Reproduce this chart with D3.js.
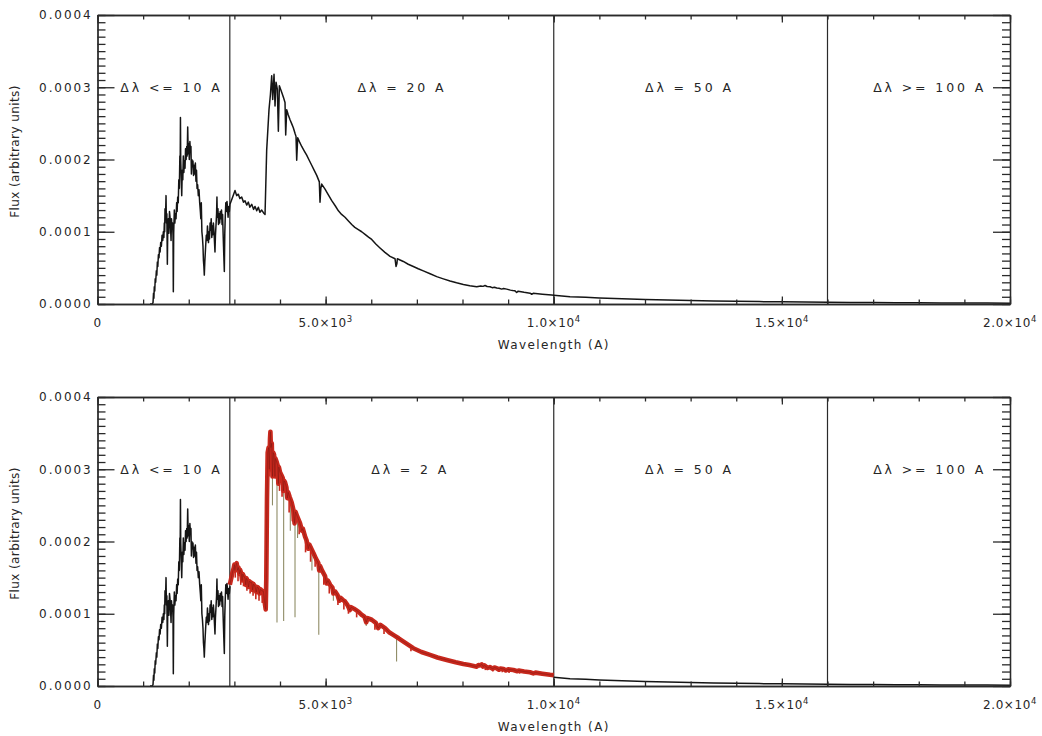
<!DOCTYPE html>
<html>
<head>
<meta charset="utf-8">
<script src="https://cdn.jsdelivr.net/npm/d3@7"></script>
<style>
  body { margin: 0; background: #fff; }
  text { font-family: "DejaVu Sans", sans-serif; fill: #262626; }
</style>
</head>
<body>
<svg id="chart" width="1042" height="736"></svg>
<script>
// ---- Spectrum data (wavelength in A, flux in arbitrary units) ----

// Ultraviolet part, dl <= 10 A (shared by both panels)
const uvWave = [1150, 1200, 1217, 1228, 1236, 1245, 1255, 1265, 1275, 1290, 1300, 1312, 1322, 1335, 1348, 1360,
  1372, 1385, 1400, 1415, 1430, 1443, 1455, 1465, 1472, 1480, 1490, 1502, 1510, 1520, 1531, 1540, 1553, 1565,
  1578, 1590, 1600, 1612, 1622, 1632, 1645, 1655, 1662, 1670, 1684, 1695, 1708, 1721, 1735, 1745, 1758, 1770,
  1782, 1794, 1805, 1812, 1818, 1824, 1835, 1846, 1858, 1870, 1881, 1893, 1905, 1918, 1930, 1942, 1955, 1966,
  1977, 1988, 2000, 2012, 2025, 2036, 2048, 2058, 2068, 2080, 2092, 2105, 2118, 2130, 2145, 2158, 2170, 2182,
  2195, 2210, 2225, 2240, 2255, 2265, 2275, 2288, 2300, 2312, 2322, 2332, 2341, 2352, 2362, 2372, 2385, 2398,
  2410, 2420, 2432, 2444, 2455, 2468, 2481, 2492, 2505, 2516, 2528, 2540, 2553, 2565, 2575, 2585, 2598, 2610,
  2618, 2626, 2640, 2652, 2665, 2678, 2690, 2705, 2718, 2730, 2742, 2752, 2762, 2772, 2780, 2790, 2800, 2812,
  2825, 2838, 2850, 2862, 2876, 2890, 2904];
const uvFlux = [0, 0, 0.000002, 0.000015, 0.000008, 0.000024, 0.000018, 0.000035, 0.000030, 0.000046,
  0.000040, 0.000058, 0.000052, 0.000068, 0.000064, 0.000078, 0.000072, 0.000085, 0.000080, 0.000095,
  0.000088, 0.000100, 0.000092, 0.000112, 0.000100, 0.000132, 0.000118, 0.000150, 0.000112, 0.000125,
  0.000055, 0.000105, 0.000118, 0.000098, 0.000128, 0.000120, 0.000108, 0.000088, 0.000118, 0.000104,
  0.000112, 0.000095, 0.000017, 0.000098, 0.000130, 0.000112, 0.000125, 0.000118, 0.000140, 0.000128,
  0.000148, 0.000140, 0.000172, 0.000160, 0.000205, 0.000188, 0.000258, 0.000200, 0.000175, 0.000150,
  0.000185, 0.000172, 0.000205, 0.000182, 0.000198, 0.000188, 0.000215, 0.000200, 0.000218, 0.000205,
  0.000245, 0.000208, 0.000222, 0.000200, 0.000225, 0.000210, 0.000218, 0.000180, 0.000200, 0.000190,
  0.000198, 0.000178, 0.000192, 0.000180, 0.000195, 0.000170, 0.000185, 0.000160, 0.000165, 0.000150,
  0.000158, 0.000140, 0.000128, 0.000118, 0.000140, 0.000100, 0.000092, 0.000080, 0.000060, 0.000052,
  0.000040, 0.000058, 0.000070, 0.000082, 0.000095, 0.000088, 0.000108, 0.000098, 0.000085, 0.000100,
  0.000090, 0.000112, 0.000102, 0.000118, 0.000092, 0.000108, 0.000096, 0.000112, 0.000100, 0.000085,
  0.000072, 0.000095, 0.000110, 0.000125, 0.000148, 0.000120, 0.000132, 0.000110, 0.000125, 0.000112,
  0.000128, 0.000118, 0.000130, 0.000110, 0.000124, 0.000100, 0.000080, 0.000060, 0.000045, 0.000098,
  0.000120, 0.000140, 0.000128, 0.000142, 0.000132, 0.000120, 0.000135, 0.000128, 0.000138];

// Optical part at dl = 20 A (upper panel)
const optWave = [2963, 3014, 3050, 3087, 3120, 3160, 3200, 3233, 3270, 3306, 3340, 3380, 3420, 3453, 3490,
  3525, 3560, 3599, 3640, 3672, 3708, 3759, 3790, 3818, 3840, 3869, 3891, 3913, 3942, 3964, 3986, 4037, 4080,
  4110, 4125, 4147, 4180, 4220, 4260, 4292, 4330, 4351, 4366, 4388, 4430, 4476, 4530, 4585, 4640, 4695, 4750,
  4805, 4862, 4877, 4895, 4914, 4987, 5060, 5134, 5210, 5280, 5350, 5425, 5500, 5572, 5640, 5717, 5790, 5864,
  5940, 6010, 6100, 6192, 6300, 6412, 6521, 6543, 6563, 6572, 6703, 6810, 6922, 7030, 7141, 7290, 7435, 7580,
  7727, 7870, 8019, 8160, 8312, 8400, 8450, 8494, 8540, 8604, 8650, 8700, 8750, 8800, 8860, 8900, 8969, 9050,
  9100, 9150, 9188, 9220, 9350, 9480, 9517, 9550, 9750, 9956, 10000];
const optFlux = [0.000148, 0.000157, 0.000150, 0.000152, 0.000146, 0.000148, 0.000141, 0.000143, 0.000137,
  0.000141, 0.000134, 0.000138, 0.000131, 0.000135, 0.000129, 0.000134, 0.000127, 0.000130, 0.000126,
  0.000124, 0.000213, 0.000269, 0.000290, 0.000316, 0.000283, 0.000318, 0.000274, 0.000307, 0.000297,
  0.000239, 0.000302, 0.000293, 0.000285, 0.000279, 0.000234, 0.000269, 0.000262, 0.000255, 0.000249,
  0.000244, 0.000236, 0.000232, 0.000199, 0.000230, 0.000224, 0.000218, 0.000212, 0.000206, 0.000199,
  0.000192, 0.000185, 0.000178, 0.000169, 0.000141, 0.000160, 0.000166, 0.000159, 0.000151, 0.000143,
  0.000136, 0.000129, 0.000124, 0.000120, 0.000115, 0.000110, 0.000106, 0.000103, 0.000100, 0.0000964,
  0.0000925, 0.0000893, 0.0000830, 0.0000776, 0.0000715, 0.0000659, 0.0000627, 0.0000519, 0.0000560,
  0.0000627, 0.0000589, 0.0000550, 0.0000519, 0.0000488, 0.0000458, 0.0000418, 0.0000379, 0.0000348,
  0.0000318, 0.0000293, 0.0000271, 0.0000254, 0.0000238, 0.0000250, 0.0000244, 0.0000256, 0.0000242,
  0.0000238, 0.0000226, 0.0000232, 0.0000222, 0.0000218, 0.0000206, 0.0000214, 0.0000206, 0.0000192,
  0.0000186, 0.0000182, 0.0000160, 0.0000178, 0.0000162, 0.0000150, 0.0000135, 0.0000148, 0.0000135,
  0.0000124, 0.0000122];

// Infrared tail, dl = 50 A and dl >= 100 A (shared by both panels)
const irWave = [10000, 10357, 10700, 11000, 11500, 12000, 12500, 13000, 13500, 14000, 14500, 15000, 15500,
  16000, 16500, 17000, 17500, 18000, 18500, 19000, 19500, 20000];
const irFlux = [0.0000122, 0.0000102, 0.0000092, 0.0000084, 0.0000072, 0.0000062, 0.0000054, 0.0000047,
  0.0000042, 0.0000037, 0.0000033, 0.0000030, 0.0000027, 0.0000024, 0.0000022, 0.0000020, 0.0000018,
  0.0000017, 0.0000015, 0.0000014, 0.0000013, 0.0000012];

// Optical part at dl = 2 A (lower panel)
const hiresWave = [2900, 2941, 2960, 2985, 3000, 3010, 3030, 3051, 3070, 3090, 3110, 3124, 3150, 3170, 3185,
  3210, 3233, 3250, 3265, 3290, 3310, 3330, 3360, 3380, 3400, 3420, 3450, 3480, 3500, 3525, 3550, 3570, 3600,
  3635, 3660, 3687, 3700, 3715, 3730, 3750, 3765, 3781, 3790, 3800, 3820, 3835, 3854, 3870, 3890, 3900, 3928,
  3950, 3964, 3975, 4000, 4030, 4060, 4074, 4090, 4110, 4140, 4160, 4180, 4210, 4256, 4290, 4320, 4340, 4370,
  4402, 4440, 4480, 4500, 4548, 4580, 4620, 4640, 4695, 4740, 4790, 4841, 4860, 4880, 4920, 4987, 5020, 5050,
  5100, 5150, 5170, 5206, 5260, 5300, 5330, 5380, 5425, 5480, 5530, 5560, 5620, 5717, 5780, 5850, 5890, 5920,
  6010, 6100, 6150, 6200, 6302, 6400, 6500, 6600, 6740, 6922, 7100, 7288, 7450, 7654, 7850, 8019, 8150, 8312,
  8350, 8385, 8420, 8450, 8480, 8520, 8550, 8600, 8660, 8700, 8750, 8800, 8830, 8900, 8950, 9000, 9115, 9200,
  9230, 9350, 9480, 9550, 9600, 9750, 9919, 10000];
const hiresFlux = [0.000140, 0.000152, 0.000158, 0.000163, 0.000168, 0.000160, 0.000166, 0.000170, 0.000160,
  0.000164, 0.000155, 0.000161, 0.000156, 0.000146, 0.000155, 0.000151, 0.000150, 0.000140, 0.000149,
  0.000146, 0.000137, 0.000145, 0.000143, 0.000143, 0.000133, 0.000141, 0.000138, 0.000130, 0.000137,
  0.000136, 0.000128, 0.000134, 0.000132, 0.000131, 0.000118, 0.000106, 0.000150, 0.000260, 0.000323,
  0.000330, 0.000300, 0.000342, 0.000352, 0.000330, 0.000336, 0.000290, 0.000323, 0.000320, 0.000290,
  0.000315, 0.000310, 0.000305, 0.000280, 0.000303, 0.000296, 0.000292, 0.000288, 0.000270, 0.000284,
  0.000282, 0.000275, 0.000260, 0.000268, 0.000262, 0.000254, 0.000245, 0.000225, 0.000241, 0.000236,
  0.000231, 0.000225, 0.000215, 0.000218, 0.000207, 0.000202, 0.000190, 0.000196, 0.000189, 0.000183,
  0.000176, 0.000170, 0.000160, 0.000166, 0.000160, 0.000152, 0.000142, 0.000146, 0.000140, 0.000136,
  0.000128, 0.000131, 0.000126, 0.000118, 0.000122, 0.000119, 0.000117, 0.000112, 0.000105, 0.000109,
  0.000107, 0.000103, 0.000099, 0.000096, 0.000088, 0.000094, 0.0000917, 0.0000875, 0.000080, 0.0000845,
  0.0000801, 0.0000740, 0.0000700, 0.0000660, 0.0000600, 0.0000523, 0.0000470, 0.0000431, 0.0000395,
  0.0000361, 0.0000330, 0.0000306, 0.0000290, 0.0000268, 0.0000290, 0.0000285, 0.0000300, 0.0000270,
  0.0000285, 0.0000265, 0.0000250, 0.0000262, 0.0000240, 0.0000255, 0.0000246, 0.0000225, 0.0000243,
  0.0000235, 0.0000215, 0.0000230, 0.0000222, 0.0000205, 0.0000214, 0.0000200, 0.0000190, 0.0000175,
  0.0000185, 0.0000170, 0.0000155, 0.0000150];

// Weak metal lines in the dl = 2 A spectrum: wavelength, continuum level, line core
const metalWave = [3020, 3080, 3140, 3200, 3275, 3345, 3410, 3470, 3540, 3610, 3760, 3810, 3990, 4045, 4200,
  4270, 4420, 4560, 4670, 4770, 4960, 5080, 5270, 5400, 5500, 5680, 6080, 6280, 6870, 8500, 8665, 8870, 9020,
  9250, 9560];
const metalTop = [0.000165, 0.000162, 0.000158, 0.000152, 0.000148, 0.000144, 0.000140, 0.000137, 0.000133,
  0.000131, 0.000330, 0.000333, 0.000298, 0.000290, 0.000264, 0.000250, 0.000228, 0.000205, 0.000192,
  0.000180, 0.000155, 0.000142, 0.000127, 0.000119, 0.000112, 0.000105, 0.000088, 0.000081, 0.000055,
  0.000028, 0.000025, 0.000024, 0.000023, 0.000021, 0.000019];
const metalCore = [0.000150, 0.000145, 0.000140, 0.000138, 0.000132, 0.000128, 0.000125, 0.000120, 0.000118,
  0.000115, 0.000290, 0.000300, 0.000270, 0.000262, 0.000240, 0.000228, 0.000210, 0.000185, 0.000172,
  0.000165, 0.000140, 0.000128, 0.000112, 0.000106, 0.000100, 0.000095, 0.000078, 0.000072, 0.000048,
  0.000022, 0.000020, 0.000019, 0.000018, 0.000017, 0.000015];

// Strong narrow absorption lines in the dl = 2 A spectrum
const lineWave = [3835, 3934, 4080, 4226, 4329, 4385, 4700, 4850, 5170, 5890, 6555];
const lineTop = [0.000320, 0.000305, 0.000285, 0.000258, 0.000240, 0.000232, 0.000187, 0.000168, 0.000133,
  0.000095, 0.000066];
const lineCore = [0.000250, 0.0000880, 0.0000900, 0.000215, 0.0000950, 0.000205, 0.000160, 0.0000710,
  0.000118, 0.000083, 0.0000340];

// Resolution zones and their labels
const zoneEdges = [2900, 10000, 16000];
const zoneLabelWave = [500, 5700, 12000, 17000];
const zoneLabelsTop = ["Δλ <= 10 A", "Δλ = 20 A", "Δλ = 50 A", "Δλ >= 100 A"];
const zoneLabelWaveBottom = [500, 6000, 12000, 17000];
const zoneLabelsBottom = ["Δλ <= 10 A", "Δλ = 2 A", "Δλ = 50 A", "Δλ >= 100 A"];
const zoneLabelFlux = 0.0003;

// Axis ticks
const xMajor = [0, 5000, 10000, 15000, 20000];
const xMinorStep = 1000;
const xMantissa = ["0", "5.0", "1.0", "1.5", "2.0"];
const xExponent = ["", "3", "4", "4", "4"];
const yMajor = [0, 0.0001, 0.0002, 0.0003, 0.0004];
const yMinorStep = 0.00001;
const yLabels = ["0.0000", "0.0001", "0.0002", "0.0003", "0.0004"];

// ---- Drawing ----
const svg = d3.select("#chart");
const left = 97.5, right = 1010;
const x = d3.scaleLinear().domain([0, 20000]).range([left, right]);
const xMinor = d3.range(0, 20000 + 1, xMinorStep);
const yMinor = d3.range(0, 41).map(i => i * yMinorStep);

const toPts = (w, f) => w.map((d, i) => [d, f[i]]);
const uvPts = toPts(uvWave, uvFlux);
const optPts = toPts(optWave, optFlux);
const irPts = toPts(irWave, irFlux);
const hiresPts = toPts(hiresWave, hiresFlux);

const panels = [
  { top: 15, bottom: 304, labels: zoneLabelsTop, labelWave: zoneLabelWave, hires: false },
  { top: 397, bottom: 686, labels: zoneLabelsBottom, labelWave: zoneLabelWaveBottom, hires: true }
];

const ink = "#2a2a2a";

panels.forEach(p => {
  const y = d3.scaleLinear().domain([0, 0.0004]).range([p.bottom, p.top]);
  const g = svg.append("g");
  const line = d3.line().x(d => x(d[0])).y(d => y(d[1]));

  // resolution zone boundaries
  g.append("g").selectAll("line").data(zoneEdges).join("line")
    .attr("x1", d => x(d)).attr("x2", d => x(d))
    .attr("y1", p.top).attr("y2", p.bottom)
    .attr("stroke", ink).attr("stroke-width", 1.2);

  // spectrum
  const blackLine = (pts, w) => g.append("path").attr("d", line(pts))
    .attr("fill", "none").attr("stroke", "#151515").attr("stroke-width", w)
    .attr("stroke-linejoin", "round");

  if (!p.hires) {
    blackLine(uvPts.concat(optPts).concat(irPts.slice(1)), 1.5);
  } else {
    blackLine(uvPts, 1.5);
    blackLine(irPts, 1.5);
    // narrow absorption cores
    g.append("g").selectAll("line").data(lineWave).join("line")
      .attr("x1", d => x(d)).attr("x2", d => x(d))
      .attr("y1", (d, i) => y(lineTop[i])).attr("y2", (d, i) => y(lineCore[i]))
      .attr("stroke", "#8f8c66").attr("stroke-width", 1.1);
    g.append("path").attr("d", line(hiresPts))
      .attr("fill", "none").attr("stroke", "#c8281d").attr("stroke-width", 4.6)
      .attr("stroke-linejoin", "round");
    g.append("g").selectAll("line").data(metalWave).join("line")
      .attr("x1", d => x(d)).attr("x2", d => x(d))
      .attr("y1", (d, i) => y(metalTop[i])).attr("y2", (d, i) => y(metalCore[i]))
      .attr("stroke", "#c8281d").attr("stroke-width", 1.6);
    g.append("path").attr("d", line(hiresPts))
      .attr("fill", "none").attr("stroke", "#6e1510").attr("stroke-width", 0.8)
      .attr("stroke-opacity", 0.5);
  }

  // D3 axes on all four sides, ticks turned inward
  const styleAxis = a => {
    a.select(".domain").attr("stroke", ink).attr("stroke-width", 1.3);
    a.selectAll(".tick line").attr("stroke", ink).attr("stroke-width", 1.3);
    return a;
  };
  const axisAt = (axis, tx, ty) => styleAxis(
    g.append("g").attr("transform", `translate(${tx},${ty})`).call(axis));

  // left axis carries the flux labels
  const yAxisLeft = axisAt(d3.axisLeft(y).tickValues(yMajor)
    .tickFormat((d, i) => yLabels[i]).tickSizeInner(-17).tickSizeOuter(0).tickPadding(5), left, 0);
  yAxisLeft.selectAll(".tick text")
    .attr("font-family", "DejaVu Sans, sans-serif").attr("font-size", 12)
    .attr("letter-spacing", 1.9).attr("fill", "#262626");
  axisAt(d3.axisLeft(y).tickValues(yMinor).tickFormat("").tickSizeInner(-8).tickSizeOuter(0), left, 0);
  axisAt(d3.axisRight(y).tickValues(yMajor).tickFormat("").tickSizeInner(-17).tickSizeOuter(0), right, 0);
  axisAt(d3.axisRight(y).tickValues(yMinor).tickFormat("").tickSizeInner(-8).tickSizeOuter(0), right, 0);
  axisAt(d3.axisBottom(x).tickValues(xMajor).tickFormat("").tickSizeInner(-7.5).tickSizeOuter(0), 0, p.bottom);
  axisAt(d3.axisBottom(x).tickValues(xMinor).tickFormat("").tickSizeInner(-4.5).tickSizeOuter(0), 0, p.bottom);
  axisAt(d3.axisTop(x).tickValues(xMajor).tickFormat("").tickSizeInner(-7.5).tickSizeOuter(0), 0, p.top);
  axisAt(d3.axisTop(x).tickValues(xMinor).tickFormat("").tickSizeInner(-4.5).tickSizeOuter(0), 0, p.top);

  // zone labels
  g.append("g").selectAll("text").data(p.labels).join("text")
    .attr("x", (d, i) => x(p.labelWave[i]))
    .attr("y", y(zoneLabelFlux))
    .attr("dy", "0.36em")
    .attr("font-size", 12.5)
    .attr("letter-spacing", 2.9)
    .text(d => d);

  // x tick labels with exponents
  const xl = g.append("g").selectAll("text").data(xMajor).join("text")
    .attr("x", d => x(d)).attr("y", p.bottom + 23)
    .attr("text-anchor", "middle")
    .attr("font-size", 12).attr("letter-spacing", 0.6);
  xl.append("tspan").text((d, i) => xExponent[i] ? xMantissa[i] + "×10" : xMantissa[i]);
  xl.filter((d, i) => xExponent[i]).append("tspan")
    .attr("dy", -5).attr("font-size", 8.5)
    .text(d => xExponent[xMajor.indexOf(d)]);

  // axis titles
  g.append("text").attr("x", (left + right) / 2).attr("y", p.bottom + 45)
    .attr("text-anchor", "middle").attr("font-size", 12).attr("letter-spacing", 1.4)
    .text("Wavelength (A)");
  g.append("text")
    .attr("transform", `translate(19,${(p.top + p.bottom) / 2 - 8}) rotate(-90)`)
    .attr("text-anchor", "middle").attr("font-size", 12).attr("letter-spacing", 0.4)
    .text("Flux (arbitrary units)");
});
</script>
</body>
</html>
